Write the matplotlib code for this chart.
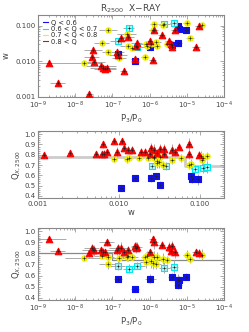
import numpy as np
import matplotlib
matplotlib.use("Agg")
import matplotlib.pyplot as plt
from matplotlib.ticker import LogLocator, FixedLocator, NullFormatter, FuncFormatter, MultipleLocator
from matplotlib.lines import Line2D

# ---- data: one entry per cluster (P3/P0, w, Q_X,2500) ----
P3P0 = [1.4e-7, 4.0e-7, 1.05e-6, 3.9e-6, 5.8e-6, 5.8e-6, 6.1e-6, 9.3e-6,          # Q<0.6
        7.6e-8, 1.4e-7, 2.7e-7, 4.6e-7, 2.45e-6, 4.5e-6,                           # 0.6-0.7
        1.7e-8, 5.2e-8, 7.6e-8, 1.5e-7, 2.4e-7, 2.6e-7, 3.4e-7, 7.3e-7, 7.8e-7, 8.7e-7,
        1.1e-6, 1.2e-6, 1.3e-6, 1.45e-6, 1.55e-6, 2.3e-6, 3.0e-6, 9.8e-6, 1.2e-5, 2.5e-5,  # 0.7-0.8
        2.0e-9, 3.4e-9, 2.4e-8, 2.8e-8, 3.0e-8, 3.1e-8, 5.0e-8, 5.5e-8, 6.2e-8, 7.0e-8,
        1.3e-7, 1.4e-7, 1.7e-7, 2.0e-7, 2.6e-7, 4.0e-7, 4.2e-7, 4.5e-7, 1.0e-6, 1.2e-6,
        1.3e-6, 2.1e-6, 3.3e-6, 3.7e-6, 3.9e-6, 4.7e-6, 1.75e-5, 2.1e-5]            # >0.8
W = [0.016, 0.0105, 0.025, 0.0285, 0.032, 0.095, 0.081, 0.077,
     0.074, 0.038, 0.087, 0.026, 0.110, 0.122,
     0.0088, 0.032, 0.0177, 0.0126, 0.059, 0.027, 0.023, 0.0135, 0.030, 0.027,
     0.031, 0.077, 0.109, 0.035, 0.027, 0.107, 0.030, 0.122, 0.045, 0.105,
     0.0088, 0.0025, 0.0012, 0.0130, 0.021, 0.0095, 0.0072, 0.0066, 0.0061, 0.0064,
     0.0185, 0.0146, 0.045, 0.0052, 0.049, 0.0115, 0.027, 0.032, 0.036, 0.0109,
     0.074, 0.055, 0.036, 0.030, 0.025, 0.074, 0.0245, 0.098]
Q = [0.57, 0.48, 0.57, 0.59, 0.51, 0.56, 0.56, 0.59,
     0.70, 0.69, 0.66, 0.69, 0.67, 0.68,
     0.76, 0.78, 0.77, 0.76, 0.77, 0.78, 0.77, 0.77, 0.72, 0.78,
     0.73, 0.71, 0.77, 0.70, 0.77, 0.75, 0.74, 0.79, 0.75, 0.79,
     0.93, 0.82, 0.80, 0.85, 0.83, 0.83, 0.83, 0.81, 0.81, 0.90,
     0.83, 0.85, 0.85, 0.81, 0.83, 0.87, 0.85, 0.86, 0.81, 0.93,
     0.90, 0.88, 0.86, 0.82, 0.87, 0.81, 0.81, 0.80]
dQ = [0.03, 0.02, 0.04, 0.03, 0.03, 0.05, 0.04, 0.03,
      0.04, 0.04, 0.04, 0.03, 0.05, 0.06,
      0.03, 0.03, 0.03, 0.04, 0.04, 0.05, 0.03, 0.03, 0.05, 0.04,
      0.06, 0.05, 0.05, 0.04, 0.04, 0.05, 0.04, 0.04, 0.04, 0.05,
      0.02, 0.02, 0.03, 0.04, 0.04, 0.05, 0.03, 0.04, 0.03, 0.03,
      0.04, 0.04, 0.05, 0.03, 0.04, 0.03, 0.05, 0.04, 0.03, 0.03,
      0.06, 0.03, 0.04, 0.04, 0.04, 0.05, 0.03, 0.04]
dlogP = [0.10, 0.10, 0.15, 0.10, 0.10, 0.10, 0.10, 0.10,
         0.25, 0.20, 0.15, 0.20, 0.15, 0.10,
         0.50, 0.20, 0.15, 0.20, 0.25, 0.20, 0.15, 0.10, 0.15, 0.10,
         0.10, 0.10, 0.10, 0.15, 0.10, 0.10, 0.10, 0.10, 0.10, 0.10,
         0.45, 0.20, 0.10, 0.20, 0.25, 0.30, 0.40, 0.35, 0.30, 0.20,
         0.20, 0.25, 0.15, 0.10, 0.15, 0.10, 0.10, 0.15, 0.10, 0.10,
         0.10, 0.10, 0.10, 0.10, 0.10, 0.10, 0.10, 0.10]

CLASS_EDGES = [0.6, 0.7, 0.8]
CLASS_LABELS = ['Q < 0.6', '0.6 < Q < 0.7', '0.7 < Q < 0.8', '0.8 < Q']
CLASS_COLORS = ['#1010ee', '#00e8f0', '#f0f000', '#ff0000']
CLASS_MARKERS = ['s', 's', 'o', '^']

P_TICKS = [1e-9, 1e-8, 1e-7, 1e-6, 1e-5, 1e-4]
W_TICKS = [0.001, 0.01, 0.1]

# step lines (median Q)
MID_STEP_X = [0.001, 0.065, 0.065, 0.2]
MID_STEP_Y = [0.78, 0.78, 0.69, 0.69]
BOT_STEP_X = [1e-9, 1.0e-7, 1.0e-7, 1e-4]
BOT_STEP_Y = [0.80, 0.80, 0.745, 0.745]

P = np.array(P3P0); Wa = np.array(W); Qa = np.array(Q)
dQa = np.array(dQ); dlp = np.array(dlogP)
cls = np.digitize(Qa, CLASS_EDGES)

plt.rcParams['font.family'] = ['DejaVu Sans']
TXT = '#444444'
SPC = '#888888'
fig = plt.figure(figsize=(2.49, 3.32), dpi=100)
axT = fig.add_axes([0.153, 0.708, 0.747, 0.247])
axM = fig.add_axes([0.153, 0.404, 0.747, 0.201])
axB = fig.add_axes([0.153, 0.097, 0.747, 0.216])

def style(ax):
    for s in ax.spines.values():
        s.set_color(SPC); s.set_linewidth(0.8)
    ax.tick_params(which='both', direction='in', top=True, right=True,
                   colors=SPC, labelcolor=TXT, labelsize=5, width=0.5, pad=2)
    ax.tick_params(which='major', length=3)
    ax.tick_params(which='minor', length=1.5)

def pexp(v, pos):
    return r'10$^{%d}$' % int(round(np.log10(v)))

def wfmt(v, pos):
    return '%.3f' % v

def draw_points(ax, x, y, xerr=None, yerr=None):
    for c in range(4):
        m = cls == c
        if xerr is not None or yerr is not None:
            ax.errorbar(x[m], y[m],
                        xerr=None if xerr is None else xerr[:, m],
                        yerr=None if yerr is None else yerr[m],
                        fmt='none', ecolor='#aaaaaa', elinewidth=0.7, capsize=0, zorder=2)
    for c in range(4):
        m = cls == c
        face = CLASS_COLORS[c] if c != 1 else '#aaf8f8'
        ax.scatter(x[m], y[m], marker=CLASS_MARKERS[c], s=22 if c == 3 else 15,
                   facecolor=face, edgecolor=CLASS_COLORS[c], linewidth=0.8, zorder=3 + c * 0.1)
        ax.scatter(x[m], y[m], marker='+', s=5, color='#222222', linewidth=0.4, zorder=4)

Perr = np.vstack([P - P / 10 ** dlp, P * 10 ** dlp - P])

# ---- top: w vs P3/P0 ----
style(axT)
axT.set_xscale('log'); axT.set_yscale('log')
axT.set_xlim(1e-9, 1e-4); axT.set_ylim(0.001, 0.2)
draw_points(axT, P, Wa, xerr=Perr)
axT.xaxis.set_major_locator(FixedLocator(P_TICKS))
axT.xaxis.set_major_formatter(FuncFormatter(pexp))
axT.yaxis.set_major_locator(FixedLocator(W_TICKS))
axT.yaxis.set_major_formatter(FuncFormatter(wfmt))
axT.set_xlabel(r'P$_3$/P$_0$', fontsize=6, color=TXT, labelpad=1)
axT.set_ylabel('w', fontsize=6, color=TXT, labelpad=3)
axT.set_title(r'R$_{2500}$  X$-$RAY', fontsize=6.5, color=TXT, pad=2)
handles = [Line2D([0], [0], color=CLASS_COLORS[c], lw=0.8) for c in range(4)]
axT.legend(handles, CLASS_LABELS, loc='upper left', fontsize=4.8, frameon=False,
           handlelength=0.8, handletextpad=0.4, labelspacing=0.05, borderaxespad=0.3,
           labelcolor='#222222')

# ---- middle: Q vs w ----
style(axM)
axM.set_xscale('log')
axM.set_xlim(0.001, 0.2); axM.set_ylim(0.38, 1.03)
axM.plot(MID_STEP_X, MID_STEP_Y, color='#cccccc', lw=2.0, zorder=1)
draw_points(axM, Wa, Qa, yerr=dQa)
axM.xaxis.set_major_locator(FixedLocator(W_TICKS))
axM.xaxis.set_major_formatter(FuncFormatter(wfmt))
axM.yaxis.set_major_locator(MultipleLocator(0.1))
axM.yaxis.set_minor_locator(MultipleLocator(0.02))
axM.yaxis.set_major_formatter(FuncFormatter(lambda v, p: '%.1f' % v))
axM.set_xlabel('w', fontsize=6, color=TXT, labelpad=1)
axM.set_ylabel(r'Q$_{X,2500}$', fontsize=6, color=TXT, labelpad=1)

# ---- bottom: Q vs P3/P0 ----
style(axB)
axB.set_xscale('log')
axB.set_xlim(1e-9, 1e-4); axB.set_ylim(0.38, 1.03)
axB.plot(BOT_STEP_X, BOT_STEP_Y, color='#888888', lw=0.9, zorder=1)
draw_points(axB, P, Qa, xerr=Perr, yerr=dQa)
axB.xaxis.set_major_locator(FixedLocator(P_TICKS))
axB.xaxis.set_major_formatter(FuncFormatter(pexp))
axB.yaxis.set_major_locator(MultipleLocator(0.1))
axB.yaxis.set_minor_locator(MultipleLocator(0.02))
axB.yaxis.set_major_formatter(FuncFormatter(lambda v, p: '%.1f' % v))
axB.set_xlabel(r'P$_3$/P$_0$', fontsize=6, color=TXT, labelpad=1)
axB.set_ylabel(r'Q$_{X,2500}$', fontsize=6, color=TXT, labelpad=1)

fig.savefig('out.png', dpi=100)
